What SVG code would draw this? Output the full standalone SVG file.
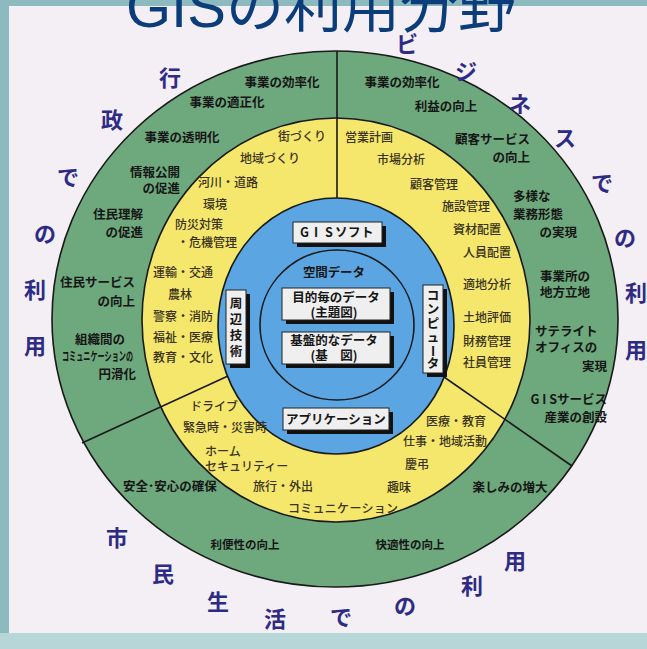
<svg xmlns="http://www.w3.org/2000/svg" width="647" height="649" viewBox="0 0 647 649">
<style>
text{font-family:"Noto Sans CJK JP","Liberation Sans",sans-serif}
.g{font-size:12.5px;font-weight:700;fill:#161616}
.gs{font-size:11.5px;font-weight:700;fill:#161616}
.y{font-size:12px;font-weight:500;fill:#3a321c}
.o{font-size:22px;font-weight:700;fill:#2d2b86;text-anchor:middle}
.b{font-size:12.5px;font-weight:700;fill:#161616}
.bx{fill:#efefef;stroke:#222;stroke-width:1}
.sh{fill:#111}
.ring{stroke:#1a1a1a;stroke-width:1.6}
.m{text-anchor:middle}
.e{text-anchor:end}
</style>
<g id="background">
<rect x="0" y="0" width="647" height="649" fill="#8dbabf"/>
<rect x="9" y="6" width="638" height="627" fill="#f4eff4"/>
<rect x="0" y="633" width="647" height="16" fill="#b6d6d8"/>
</g>
<g id="rings">
<ellipse id="ring-outer" class="ring" cx="335" cy="319" rx="283" ry="268" fill="#6ea87d"/>
<ellipse id="ring-yellow" class="ring" cx="336" cy="320" rx="194" ry="202" fill="#f4e76c"/>
<ellipse id="ring-blue" class="ring" cx="336" cy="326" rx="118" ry="128" fill="#5ba6e2"/>
<ellipse id="ring-data" class="ring" cx="337" cy="325" rx="77" ry="75" fill="none"/>
</g>
<g id="connectors" stroke="#1a1a1a" stroke-width="1.6" fill="none">
<line x1="337" y1="51" x2="337" y2="198"/>
<line x1="82" y1="443" x2="228" y2="376"/>
<line x1="444" y1="377" x2="572" y2="466"/>
</g>
<g id="title">
<text x="126" y="27" font-size="58" fill="#0c3d7b" style="font-family:'Liberation Sans','Noto Sans CJK JP',sans-serif">GISの利用分野</text>
</g>
<g id="label-gyosei" class="o">
<text class="o" x="170" y="86">行</text>
<text class="o" x="112" y="128">政</text>
<text class="o" x="68" y="185">で</text>
<text class="o" x="45" y="242">の</text>
<text class="o" x="35" y="298">利</text>
<text class="o" x="35" y="354">用</text>
</g>
<g id="label-business">
<text class="o" x="407" y="52">ビ</text>
<text class="o" x="466" y="80">ジ</text>
<text class="o" x="520" y="112">ネ</text>
<text class="o" x="565" y="146">ス</text>
<text class="o" x="602" y="191">で</text>
<text class="o" x="625" y="246">の</text>
<text class="o" x="636" y="301">利</text>
<text class="o" x="636" y="358">用</text>
</g>
<g id="label-shimin">
<text class="o" x="117" y="546">市</text>
<text class="o" x="163" y="582">民</text>
<text class="o" x="218" y="610">生</text>
<text class="o" x="275" y="627">活</text>
<text class="o" x="341" y="625">で</text>
<text class="o" x="405" y="614">の</text>
<text class="o" x="472" y="594">利</text>
<text class="o" x="515" y="569">用</text>
</g>
<g id="green-gyosei">
<text class="g m" x="282" y="87">事業の効率化</text>
<text class="g m" x="227" y="107">事業の適正化</text>
<text class="g m" x="182" y="142">事業の透明化</text>
<text class="g e" x="180" y="177">情報公開</text>
<text class="g e" x="180" y="193">の促進</text>
<text class="g e" x="143" y="219">住民理解</text>
<text class="g e" x="143" y="237">の促進</text>
<text class="g e" x="135" y="287">住民サービス</text>
<text class="g e" x="135" y="306">の向上</text>
<text class="g m" x="100" y="344">組織間の</text>
<text class="g" x="62" y="361" font-size="9.5" textLength="71" lengthAdjust="spacingAndGlyphs">コミュニケーションの</text>
<text class="g e" x="136" y="379">円滑化</text>
</g>
<g id="green-business">
<text class="g m" x="402" y="87">事業の効率化</text>
<text class="g m" x="446" y="111">利益の向上</text>
<text class="g e" x="530" y="144">顧客サービス</text>
<text class="g e" x="530" y="162">の向上</text>
<text class="g" x="513" y="201">多様な</text>
<text class="g" x="513" y="219">業務形態</text>
<text class="g e" x="577" y="237">の実現</text>
<text class="g" x="540" y="281">事業所の</text>
<text class="g" x="540" y="297">地方立地</text>
<text class="g" x="535" y="336">サテライト</text>
<text class="g" x="535" y="352">オフィスの</text>
<text class="g e" x="607" y="371">実現</text>
<text class="g e" x="607" y="404">G I Sサービス</text>
<text class="g e" x="607" y="422">産業の創設</text>
</g>
<g id="green-shimin">
<text class="g m" x="170" y="491">安全･安心の確保</text>
<text class="g m" x="510" y="492">楽しみの増大</text>
<text class="gs m" x="245" y="549">利便性の向上</text>
<text class="gs m" x="410" y="549">快適性の向上</text>
</g>
<g id="yellow-gyosei">
<text class="y" x="278" y="141">街づくり</text>
<text class="y" x="240" y="163">地域づくり</text>
<text class="y" x="198" y="187">河川・道路</text>
<text class="y" x="203" y="209">環境</text>
<text class="y" x="175" y="229">防災対策</text>
<text class="y" x="177" y="247">・危機管理</text>
<text class="y" x="153" y="277">運輸・交通</text>
<text class="y" x="168" y="299">農林</text>
<text class="y" x="153" y="321">警察・消防</text>
<text class="y" x="153" y="342">福祉・医療</text>
<text class="y" x="153" y="362">教育・文化</text>
</g>
<g id="yellow-business">
<text class="y" x="345" y="142">営業計画</text>
<text class="y" x="377" y="164">市場分析</text>
<text class="y" x="410" y="189">顧客管理</text>
<text class="y" x="442" y="211">施設管理</text>
<text class="y" x="453" y="234">資材配置</text>
<text class="y" x="463" y="257">人員配置</text>
<text class="y" x="463" y="289">適地分析</text>
<text class="y" x="463" y="322">土地評価</text>
<text class="y" x="463" y="346">財務管理</text>
<text class="y" x="463" y="367">社員管理</text>
</g>
<g id="yellow-shimin">
<text class="y" x="190" y="411">ドライブ</text>
<text class="y" x="183" y="432">緊急時・災害時</text>
<text class="y" x="205" y="456">ホーム</text>
<text class="y" x="205" y="471">セキュリティー</text>
<text class="y" x="253" y="491">旅行・外出</text>
<text class="y" x="288" y="513" textLength="110" lengthAdjust="spacing">コミュニケーション</text>
<text class="y" x="426" y="426">医療・教育</text>
<text class="y" x="403" y="446">仕事・地域活動</text>
<text class="y" x="405" y="469">慶弔</text>
<text class="y" x="387" y="492">趣味</text>
</g>
<g id="box-gissoft">
<rect class="sh" x="297" y="226" width="89" height="21"/>
<rect class="bx" x="293" y="222" width="89" height="21"/>
<text class="b" x="300 314 325 335 348 361" y="237">GISソフト</text>
</g>
<g id="spatial-data">
<text class="b" x="303" y="277" font-size="13" textLength="62" lengthAdjust="spacing">空間データ</text>
</g>
<g id="box-thematic">
<rect class="sh" x="286" y="292" width="108" height="32"/>
<rect class="bx" x="282" y="288" width="108" height="32"/>
<text class="b m" x="336" y="302">目的毎のデータ</text>
<text class="b m" x="334" y="317">(主題図)</text>
</g>
<g id="box-base">
<rect class="sh" x="286" y="336" width="108" height="32"/>
<rect class="bx" x="282" y="332" width="108" height="32"/>
<text class="b m" x="334" y="345">基盤的なデータ</text>
<text class="b m" x="334" y="360">(基　図)</text>
</g>
<g id="box-shuhen">
<rect class="sh" x="230" y="294" width="20" height="74"/>
<rect class="bx" x="226" y="290" width="20" height="74"/>
<text class="b m" x="236" y="308">周</text>
<text class="b m" x="236" y="324">辺</text>
<text class="b m" x="236" y="340">技</text>
<text class="b m" x="236" y="356">術</text>
</g>
<g id="box-computer">
<rect class="sh" x="427" y="289" width="20" height="88"/>
<rect class="bx" x="423" y="285" width="20" height="88"/>
<text class="b m" x="433" y="300">コ</text>
<text class="b m" x="433" y="314">ン</text>
<text class="b m" x="433" y="328">ピ</text>
<text class="b m" x="433" y="342">ュ</text>
<text class="b m" dominant-baseline="central" transform="translate(433,351) rotate(90)">ー</text>
<text class="b m" x="433" y="368">タ</text>
</g>
<g id="box-application">
<rect class="sh" x="287" y="412" width="106" height="22"/>
<rect class="bx" x="283" y="408" width="106" height="22"/>
<text class="b m" x="336" y="424">アプリケーション</text>
</g>
</svg>
